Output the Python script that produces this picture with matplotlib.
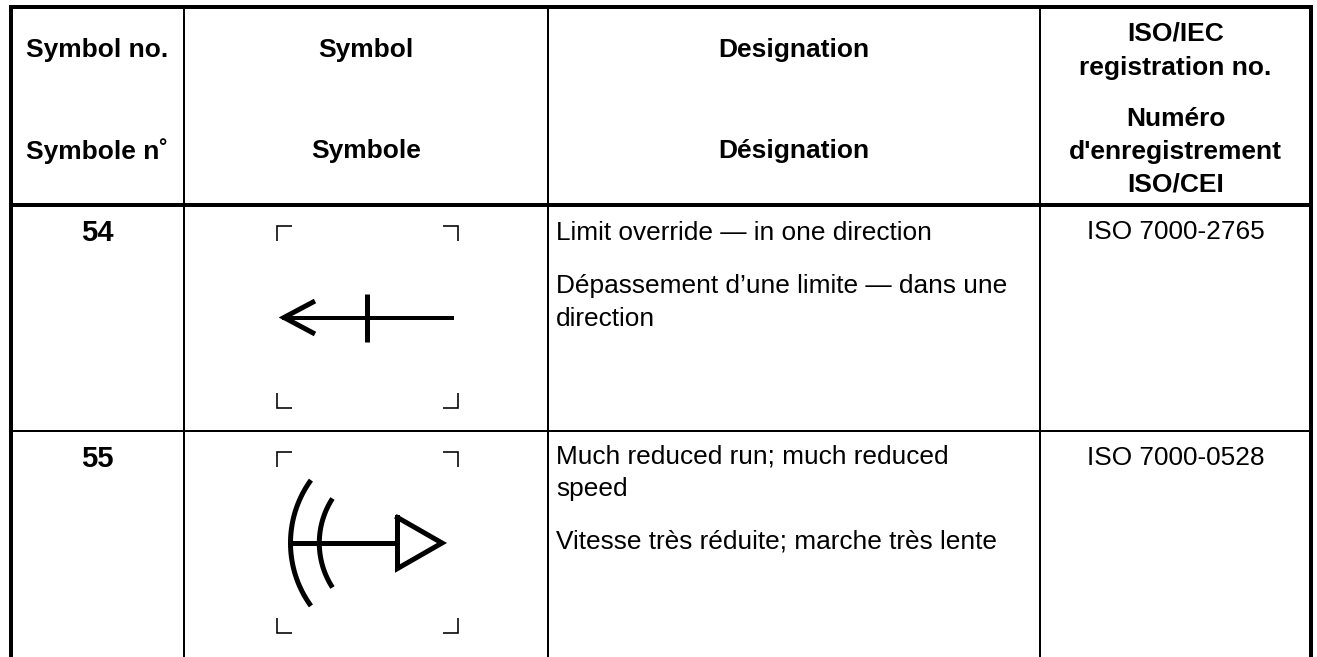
import matplotlib
matplotlib.use("Agg")
import matplotlib.pyplot as plt
import numpy as np

W, H = 1317, 657
plt.rcParams['font.family'] = ['Liberation Sans', 'DejaVu Sans']

header_en = ["Symbol no.", "Symbol", "Designation", "ISO/IEC\nregistration no."]
header_fr = ["Symbole n˚", "Symbole", "Désignation", "Numéro\nd'enregistrement\nISO/CEI"]
row_numbers = ["54", "55"]
designations = [
    ["Limit override — in one direction", "Dépassement d’une limite — dans une\ndirection"],
    ["Much reduced run; much reduced\nspeed", "Vitesse très réduite; marche très lente"],
]
registrations = ["ISO 7000-2765", "ISO 7000-0528"]

column_lines = [11, 184, 548, 1040, 1311]
column_widths = [4, 2, 2, 2, 4]
fig = plt.figure(figsize=(W / 100, H / 100), dpi=100)
ax = fig.add_axes([0, 0, 1, 1])
ax.set_xlim(0, W)
ax.set_ylim(H, 0)
ax.axis('off')
lw = lambda px: px * 72 / 100

for x, w in zip(column_lines, column_widths):
    ax.plot([x, x], [7, H], color='black', lw=lw(w), solid_capstyle='butt')
for y, w in [(7, 4), (204.5, 4), (431, 2)]:
    ax.plot([9, 1313], [y, y], color='black', lw=lw(w), solid_capstyle='butt')

fs = 18.9
fb = 19.0
ls = 1.45
cx = [97.5, 366, 794, 1175.5]
for i in range(4):
    ax.text(cx[i], 49.5 if i < 3 else 51, header_en[i], ha='center', va='center', weight='bold', fontsize=fb, linespacing=1.55 if i == 3 else ls)
    ax.text(cx[i], 151 if i < 3 else 152, header_fr[i], ha='center', va='center', weight='bold', fontsize=fb, linespacing=ls)

ys = [233, 459]
for i in range(2):
    ax.text(97.5, ys[i], row_numbers[i], ha='center', va='center', weight='bold', fontsize=21)
    ax.text(1175.5, ys[i] - 1, registrations[i], ha='center', va='center', fontsize=fs)
ax.text(556, 233, designations[0][0], va='center', fontsize=fs)
ax.text(556, 302.5, designations[0][1], va='center', fontsize=fs, linespacing=ls)
ax.text(556, 472.5, designations[1][0], va='center', fontsize=fs, linespacing=ls)
ax.text(556, 542, designations[1][1], va='center', fontsize=fs)

def corners(x0, x1, y0, y1, n=15):
    for xc, yc, dx, dy in [(x0, y0, 1, 1), (x1, y0, -1, 1), (x0, y1, 1, -1), (x1, y1, -1, -1)]:
        ax.plot([xc + dx * n, xc, xc], [yc, yc, yc + dy * n], color='black', lw=lw(1.6), solid_joinstyle='miter', solid_capstyle='butt')

corners(277, 458, 226, 408)
corners(277, 458, 452, 633)

ax.plot([282, 454], [317.5, 317.5], color='black', lw=lw(4), solid_capstyle='butt')
ax.plot([367, 367], [294, 342], color='black', lw=lw(5), solid_capstyle='butt')
ax.plot([315, 284, 315], [301, 317.5, 334], color='black', lw=lw(5), solid_joinstyle='miter', solid_capstyle='butt')

def arc(cxx, cyy, r, half):
    a = np.radians(np.linspace(180 - half, 180 + half, 60))
    ax.plot(cxx + r * np.cos(a), cyy + r * np.sin(a), color='black', lw=lw(5), solid_capstyle='butt')
arc(397.5, 543, 107, 36)
arc(401, 543, 81.7, 33)
ax.plot([291, 397], [543, 543], color='black', lw=lw(5), solid_capstyle='butt')
ax.plot([397.5, 397.5, 442, 397.5], [517.5, 568.5, 543, 517.5], color='black', lw=lw(5), solid_joinstyle='miter')

fig.savefig('out.png', dpi=100, facecolor='white')
